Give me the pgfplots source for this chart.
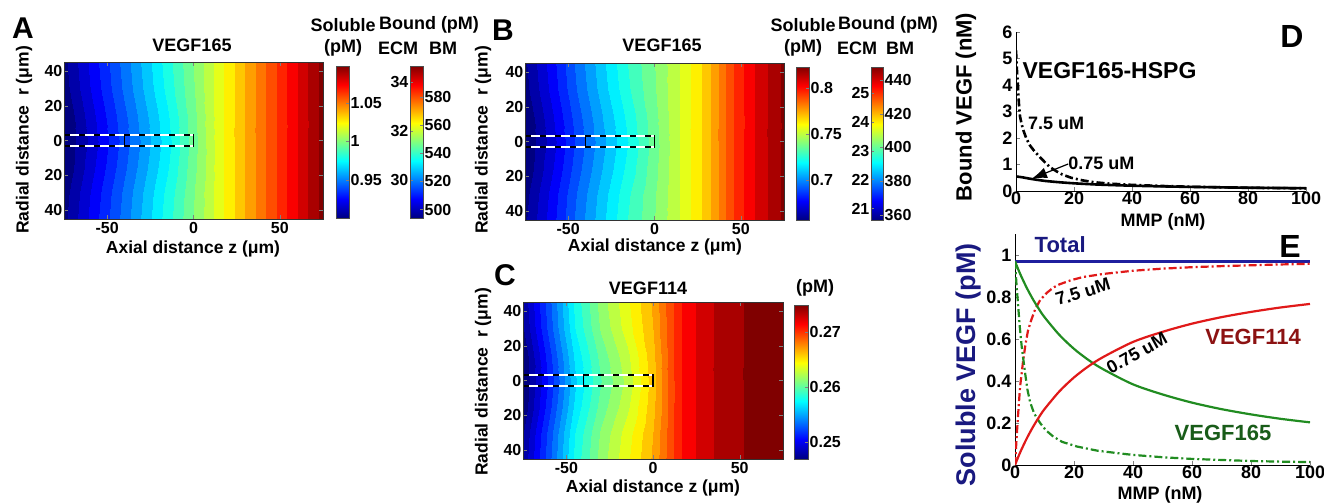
\documentclass[border=0pt]{standalone}
\usepackage{pgfplots}
\pgfplotsset{compat=1.18}
\usepackage{fontspec}
\setmainfont{Liberation Sans}
\usetikzlibrary{arrows.meta}
\definecolor{navy}{rgb}{0.1,0.1,0.5}
\definecolor{totalblue}{rgb}{0.12,0.12,0.62}
\definecolor{cgreen}{rgb}{0.13,0.55,0.13}
\definecolor{cred}{rgb}{0.88,0.1,0.1}
\definecolor{dred}{rgb}{0.55,0.07,0.07}
\definecolor{dgreen}{rgb}{0.1,0.36,0.1}
\newcommand{\fs}[1]{\fontsize{#1}{#1}\selectfont\bfseries}
\pgfplotsset{
  colormap={myjet}{rgb255(0cm)=(0,0,128); rgb255(1cm)=(0,0,255); rgb255(3cm)=(0,255,255); rgb255(5cm)=(255,255,0); rgb255(7cm)=(255,0,0); rgb255(8cm)=(128,0,0)},
  colormap={jetd}{samples of colormap=(26 of myjet)},
}
\pgfplotsset{
  every axis/.append style={font=\fs{16}, /pgf/number format/assume math mode=true},
  heat/.style={
    scale only axis, width=259pt, height=157pt,
    xmin=-75,xmax=75,ymin=-45,ymax=45,
    xtick={-50,0,50}, xticklabels={-50,0,50},
    ytick={-40,-20,0,20,40}, yticklabels={40,20,0,20,40},
    tick pos=both, tick align=inside, major tick length=4pt,
    yticklabel style={inner sep=1.5pt},
    axis on top, axis line style={line width=0.8pt, black!80},
    colormap name=jetd,
    colormap access=piecewise constant,
  },
  cbar/.style={
    scale only axis, width=13pt, height=153pt,
    xmin=0,xmax=1, xtick=\empty,
    tick align=inside, major tick length=3pt,
    yticklabel style={inner sep=1.5pt},
    axis on top, axis line style={line width=0.6pt, black!70},
    colormap name=myjet,
  },
  vessel/.style={white, line width=1.8pt},
  vesseld/.style={black, line width=1.8pt, dash pattern=on 6pt off 9pt},
  dd/.style={dash pattern=on 8pt off 3pt on 2pt off 3pt},
}
\begin{document}
\begin{tikzpicture}[x=1pt,y=1pt]
\path[use as bounding box] (0,0) rectangle (1324,503);

% ================= Panel A =================
\begin{axis}[heat, at={(64pt,284pt)}, anchor=south west, point meta min=0.9006, point meta max=1.098]
\addplot[surf, shader=interp, mesh/rows=7, mesh/cols=11, point meta=\thisrow{v}] table[x=z,y=r,row sep=\\]{
z r v\\
-75 -45 0.9060\\ -60 -45 0.9248\\ -45 -45 0.9435\\ -30 -45 0.9623\\ -15 -45 0.9810\\ 0 -45 0.9999\\ 15 -45 1.0188\\ 30 -45 1.0375\\ 45 -45 1.0563\\ 60 -45 1.0750\\ 75 -45 1.0938\\
-75 -30 0.9045\\ -60 -30 0.9233\\ -45 -30 0.9420\\ -30 -30 0.9608\\ -15 -30 0.9795\\ 0 -30 0.9991\\ 15 -30 1.0188\\ 30 -30 1.0375\\ 45 -30 1.0563\\ 60 -30 1.0750\\ 75 -30 1.0938\\
-75 -15 0.9010\\ -60 -15 0.9198\\ -45 -15 0.9385\\ -30 -15 0.9573\\ -15 -15 0.9760\\ 0 -15 0.9974\\ 15 -15 1.0188\\ 30 -15 1.0375\\ 45 -15 1.0563\\ 60 -15 1.0750\\ 75 -15 1.0938\\
-75 0 0.8988\\ -60 0 0.9175\\ -45 0 0.9363\\ -30 0 0.9550\\ -15 0 0.9738\\ 0 0 0.9963\\ 15 0 1.0188\\ 30 0 1.0375\\ 45 0 1.0563\\ 60 0 1.0750\\ 75 0 1.0938\\
-75 15 0.9010\\ -60 15 0.9198\\ -45 15 0.9385\\ -30 15 0.9573\\ -15 15 0.9760\\ 0 15 0.9974\\ 15 15 1.0188\\ 30 15 1.0375\\ 45 15 1.0563\\ 60 15 1.0750\\ 75 15 1.0938\\
-75 30 0.9045\\ -60 30 0.9233\\ -45 30 0.9420\\ -30 30 0.9608\\ -15 30 0.9795\\ 0 30 0.9991\\ 15 30 1.0188\\ 30 30 1.0375\\ 45 30 1.0563\\ 60 30 1.0750\\ 75 30 1.0938\\
-75 45 0.9060\\ -60 45 0.9248\\ -45 45 0.9435\\ -30 45 0.9623\\ -15 45 0.9810\\ 0 45 0.9999\\ 15 45 1.0188\\ 30 45 1.0375\\ 45 45 1.0563\\ 60 45 1.0750\\ 75 45 1.0938\\
};
\addplot[vessel] coordinates {(-75,3) (0,3)};
\addplot[vessel] coordinates {(-75,-3) (0,-3)};
\addplot[vesseld] coordinates {(-75,3) (0,3)};
\addplot[vesseld] coordinates {(-75,-3) (0,-3)};
\addplot[black, line width=1.5pt] coordinates {(-40,-3.5) (-40,3.5)};
\addplot[black, line width=1.5pt] coordinates {(0,-3.5) (0,3.5)};
\end{axis}

\begin{axis}[cbar, at={(336pt,285pt)}, anchor=south west, height=152pt, ymin=0.9006, ymax=1.098,
  ytick={0.95,1,1.05}, yticklabels={0.95,1,1.05}, ytick pos=right]
\addplot[surf, shader=interp, mesh/rows=2, mesh/cols=2, point meta=y] coordinates {(0,0.9006) (1,0.9006) (0,1.098) (1,1.098)};
\end{axis}
\begin{axis}[cbar, at={(410pt,285pt)}, anchor=south west, height=152pt, ymin=28.45, ymax=34.65,
  ytick={30,32,34}, yticklabels={30,32,34}, ytick pos=left]
\addplot[surf, shader=interp, mesh/rows=2, mesh/cols=2, point meta=y] coordinates {(0,28.45) (1,28.45) (0,34.65) (1,34.65)};
\end{axis}
\begin{axis}[cbar, at={(410pt,285pt)}, anchor=south west, height=152pt, ymin=494, ymax=602,
  ytick={500,520,540,560,580}, yticklabels={500,520,540,560,580}, ytick pos=right]
\end{axis}

% ================= Panel B =================
\begin{axis}[heat, at={(525pt,283pt)}, anchor=south west, point meta min=0.6565, point meta max=0.823]
\addplot[surf, shader=interp, mesh/rows=7, mesh/cols=11, point meta=\thisrow{v}] table[x=z,y=r,row sep=\\]{
z r v\\
-75 -45 0.6618\\ -60 -45 0.6788\\ -45 -45 0.6968\\ -30 -45 0.7128\\ -15 -45 0.7278\\ 0 -45 0.7399\\ 15 -45 0.753\\ 30 -45 0.768\\ 45 -45 0.790\\ 60 -45 0.806\\ 75 -45 0.818\\
-75 -30 0.6604\\ -60 -30 0.6774\\ -45 -30 0.6954\\ -30 -30 0.7114\\ -15 -30 0.7264\\ 0 -30 0.7394\\ 15 -30 0.753\\ 30 -30 0.768\\ 45 -30 0.790\\ 60 -30 0.806\\ 75 -30 0.818\\
-75 -15 0.6572\\ -60 -15 0.6742\\ -45 -15 0.6922\\ -30 -15 0.7082\\ -15 -15 0.7232\\ 0 -15 0.7381\\ 15 -15 0.753\\ 30 -15 0.768\\ 45 -15 0.790\\ 60 -15 0.806\\ 75 -15 0.818\\
-75 0 0.6551\\ -60 0 0.6721\\ -45 0 0.6901\\ -30 0 0.7061\\ -15 0 0.7211\\ 0 0 0.7373\\ 15 0 0.753\\ 30 0 0.768\\ 45 0 0.790\\ 60 0 0.806\\ 75 0 0.818\\
-75 15 0.6572\\ -60 15 0.6742\\ -45 15 0.6922\\ -30 15 0.7082\\ -15 15 0.7232\\ 0 15 0.7381\\ 15 15 0.753\\ 30 15 0.768\\ 45 15 0.790\\ 60 15 0.806\\ 75 15 0.818\\
-75 30 0.6604\\ -60 30 0.6774\\ -45 30 0.6954\\ -30 30 0.7114\\ -15 30 0.7264\\ 0 30 0.7394\\ 15 30 0.753\\ 30 30 0.768\\ 45 30 0.790\\ 60 30 0.806\\ 75 30 0.818\\
-75 45 0.6618\\ -60 45 0.6788\\ -45 45 0.6968\\ -30 45 0.7128\\ -15 45 0.7278\\ 0 45 0.7399\\ 15 45 0.753\\ 30 45 0.768\\ 45 45 0.790\\ 60 45 0.806\\ 75 45 0.818\\
};
\addplot[vessel] coordinates {(-75,3) (0,3)};
\addplot[vessel] coordinates {(-75,-3) (0,-3)};
\addplot[vesseld] coordinates {(-75,3) (0,3)};
\addplot[vesseld] coordinates {(-75,-3) (0,-3)};
\addplot[black, line width=1.5pt] coordinates {(-40,-3.5) (-40,3.5)};
\addplot[black, line width=1.5pt] coordinates {(0,-3.5) (0,3.5)};
\end{axis}

\begin{axis}[cbar, at={(796pt,283pt)}, anchor=south west, ymin=0.6565, ymax=0.823,
  ytick={0.7,0.75,0.8}, yticklabels={0.7,0.75,0.8}, ytick pos=right]
\addplot[surf, shader=interp, mesh/rows=2, mesh/cols=2, point meta=y] coordinates {(0,0.6565) (1,0.6565) (0,0.823) (1,0.823)};
\end{axis}
\begin{axis}[cbar, at={(871pt,283pt)}, anchor=south west, width=12pt, ymin=20.6, ymax=25.9,
  ytick={21,22,23,24,25}, yticklabels={21,22,23,24,25}, ytick pos=left]
\addplot[surf, shader=interp, mesh/rows=2, mesh/cols=2, point meta=y] coordinates {(0,20.6) (1,20.6) (0,25.9) (1,25.9)};
\end{axis}
\begin{axis}[cbar, at={(871pt,283pt)}, anchor=south west, width=12pt, ymin=357, ymax=447.7,
  ytick={360,380,400,420,440}, yticklabels={360,380,400,420,440}, ytick pos=right]
\end{axis}

% ================= Panel C =================
\begin{axis}[heat, at={(523pt,44pt)}, anchor=south west, width=260pt, point meta min=0.2469, point meta max=0.2749]
\addplot[surf, shader=interp, mesh/rows=7, mesh/cols=11, point meta=\thisrow{v}] table[x=z,y=r,row sep=\\]{
z r v\\
-75 -45 0.2482\\ -60 -45 0.2530\\ -45 -45 0.2580\\ -30 -45 0.2614\\ -15 -45 0.2639\\ 0 -45 0.2665\\ 15 -45 0.2704\\ 30 -45 0.2724\\ 45 -45 0.2735\\ 60 -45 0.2742\\ 75 -45 0.2745\\
-75 -30 0.2479\\ -60 -30 0.2527\\ -45 -30 0.2577\\ -30 -30 0.2611\\ -15 -30 0.2636\\ 0 -30 0.2663\\ 15 -30 0.2704\\ 30 -30 0.2724\\ 45 -30 0.2735\\ 60 -30 0.2742\\ 75 -30 0.2745\\
-75 -15 0.2471\\ -60 -15 0.2519\\ -45 -15 0.2569\\ -30 -15 0.2603\\ -15 -15 0.2628\\ 0 -15 0.2660\\ 15 -15 0.2704\\ 30 -15 0.2724\\ 45 -15 0.2735\\ 60 -15 0.2742\\ 75 -15 0.2745\\
-75 0 0.2466\\ -60 0 0.2514\\ -45 0 0.2564\\ -30 0 0.2598\\ -15 0 0.2623\\ 0 0 0.2658\\ 15 0 0.2704\\ 30 0 0.2724\\ 45 0 0.2735\\ 60 0 0.2742\\ 75 0 0.2745\\
-75 15 0.2471\\ -60 15 0.2519\\ -45 15 0.2569\\ -30 15 0.2603\\ -15 15 0.2628\\ 0 15 0.2660\\ 15 15 0.2704\\ 30 15 0.2724\\ 45 15 0.2735\\ 60 15 0.2742\\ 75 15 0.2745\\
-75 30 0.2479\\ -60 30 0.2527\\ -45 30 0.2577\\ -30 30 0.2611\\ -15 30 0.2636\\ 0 30 0.2663\\ 15 30 0.2704\\ 30 30 0.2724\\ 45 30 0.2735\\ 60 30 0.2742\\ 75 30 0.2745\\
-75 45 0.2482\\ -60 45 0.2530\\ -45 45 0.2580\\ -30 45 0.2614\\ -15 45 0.2639\\ 0 45 0.2665\\ 15 45 0.2704\\ 30 45 0.2724\\ 45 45 0.2735\\ 60 45 0.2742\\ 75 45 0.2745\\
};
\addplot[vessel] coordinates {(-75,3) (0,3)};
\addplot[vessel] coordinates {(-75,-3) (0,-3)};
\addplot[vesseld] coordinates {(-75,3) (0,3)};
\addplot[vesseld] coordinates {(-75,-3) (0,-3)};
\addplot[black, line width=1.5pt] coordinates {(-40,-3.5) (-40,3.5)};
\addplot[black, line width=1.5pt] coordinates {(0,-3.5) (0,3.5)};
\end{axis}

\begin{axis}[cbar, at={(794pt,44pt)}, anchor=south west, width=14pt, height=154pt, ymin=0.2469, ymax=0.2749,
  ytick={0.25,0.26,0.27}, yticklabels={0.25,0.26,0.27}, ytick pos=right]
\addplot[surf, shader=interp, mesh/rows=2, mesh/cols=2, point meta=y] coordinates {(0,0.2469) (1,0.2469) (0,0.2749) (1,0.2749)};
\end{axis}

% ================= Panel D =================
\begin{axis}[scale only axis, at={(1016pt,312pt)}, anchor=south west, width=290pt, height=159pt,
  xmin=0, xmax=100, ymin=0, ymax=6, xtick={0,20,...,100}, ytick={0,1,...,6},
  axis x line*=bottom, axis y line*=left, axis line style={-, line width=0.8pt},
  tick align=inside, major tick length=4pt, font=\fs{18},
  xticklabel style={inner sep=1pt}]
\addplot[black, line width=2.6pt, dd] coordinates {(0,5.3) (0.3,4.6) (0.7,3.9) (1.0,3.3) (1.4,2.8) (2.0,2.5) (2.5,2.3) (3.5,2.0) (4.8,1.72) (6.5,1.48) (8.3,1.27) (10,1.08) (11.7,0.9) (14,0.74) (16,0.62) (19,0.5) (23,0.4) (27,0.33) (32,0.28) (40,0.23) (50,0.19) (60,0.16) (70,0.14) (80,0.12) (90,0.11) (100,0.1)};
\addplot[black, line width=2.6pt, smooth] coordinates {(0,0.55) (2,0.52) (5,0.46) (8,0.41) (10,0.38) (15,0.33) (20,0.29) (25,0.26) (30,0.235) (40,0.2) (50,0.175) (60,0.155) (70,0.14) (80,0.125) (90,0.115) (100,0.105)};
\draw[-{Latex[length=15pt,width=11pt]}, line width=1.2pt] (axis cs:18,1.02) -- (axis cs:5.5,0.47);
\node[anchor=west, font=\fs{23}, inner sep=0pt] at (axis cs:2.2,4.56) {VEGF165-HSPG};
\node[anchor=west, font=\fs{18}, inner sep=0pt] at (axis cs:4.1,2.55) {7.5 uM};
\node[anchor=west, font=\fs{18}, inner sep=0pt] at (axis cs:18,1.04) {0.75 uM};
\end{axis}

% ================= Panel E =================
\begin{axis}[scale only axis, at={(1015pt,38pt)}, anchor=south west, width=295pt, height=231pt,
  xmin=0, xmax=100, ymin=0, ymax=1.1, xtick={0,20,...,100}, ytick={0,0.2,0.4,0.6,0.8,1},
  yticklabels={0,0.2,0.4,0.6,0.8,1},
  axis x line*=bottom, axis y line*=left, axis line style={-, line width=0.8pt},
  tick align=inside, major tick length=4pt, font=\fs{18},
  xticklabel style={inner sep=1pt}]
\addplot[totalblue, line width=2.6pt] coordinates {(0,0.97) (100,0.97)};
\addplot[cred, line width=2.2pt, dd] coordinates {(0,0) (0.25,0.06) (0.5,0.12) (1,0.23) (1.7,0.37) (2.7,0.49) (3.5,0.57) (4.4,0.64) (5.5,0.69) (6.8,0.74) (8.5,0.785) (10.8,0.82) (13,0.845) (15,0.86) (19,0.88) (23,0.895) (30,0.91) (40,0.925) (50,0.935) (60,0.942) (70,0.947) (80,0.951) (90,0.955) (100,0.958)};
\addplot[cgreen, line width=2.2pt, dd] coordinates {(0,0.97) (0.5,0.86) (1,0.77) (1.6,0.66) (2.3,0.56) (3.4,0.44) (4.2,0.36) (5.1,0.30) (6.5,0.245) (8.5,0.20) (10.5,0.165) (13,0.135) (16,0.11) (21,0.088) (28,0.068) (35,0.056) (40,0.048) (50,0.037) (60,0.029) (70,0.024) (80,0.019) (90,0.016) (100,0.014)};
\addplot[cgreen, line width=2.2pt, smooth] coordinates {(0,0.970) (1,0.935) (2,0.902) (4,0.843) (6,0.791) (8,0.745) (10,0.704) (15,0.620) (20,0.553) (25,0.499) (30,0.455) (40,0.384) (50,0.336) (60,0.297) (70,0.266) (80,0.241) (90,0.220) (100,0.203)};
\addplot[cred, line width=2.2pt, smooth] coordinates {(0,0) (1,0.035) (2,0.068) (4,0.127) (6,0.179) (8,0.225) (10,0.266) (15,0.350) (20,0.417) (25,0.471) (30,0.515) (40,0.586) (50,0.634) (60,0.673) (70,0.704) (80,0.729) (90,0.750) (100,0.767)};
\node[font=\fs{22}, text=navy] at (axis cs:15.3,1.048) {Total};
\node[font=\fs{18}, rotate=17, inner sep=0pt] at (axis cs:23,0.824) {7.5 uM};
\node[font=\fs{22}, text=dred, inner sep=0pt] at (axis cs:80.7,0.61) {VEGF114};
\node[font=\fs{18}, rotate=29, inner sep=0pt] at (axis cs:41.3,0.533) {0.75 uM};
\node[font=\fs{22}, text=dgreen] at (axis cs:70.5,0.152) {VEGF165};
\end{axis}

% ================= Texts =================
\node[font=\fs{30}] at (23,475) {A};
\node[font=\fs{30}] at (503,473) {B};
\node[font=\fs{30}] at (505,228) {C};
\node[font=\fs{32}] at (1292,467) {D};
\node[font=\fs{32}] at (1290,257) {E};

\node[font=\fs{18}] at (192,458) {VEGF165};
\node[font=\fs{18}] at (662,458) {VEGF165};
\node[font=\fs{18}] at (648,215) {VEGF114};

\node[font=\fs{18}] at (343,478) {Soluble};
\node[font=\fs{18}] at (343,455) {(pM)};
\node[font=\fs{18}] at (429,478) {Bound (pM)};
\node[font=\fs{18}] at (398,455) {ECM};
\node[font=\fs{18}] at (443,455) {BM};

\node[font=\fs{18}] at (803,478) {Soluble};
\node[font=\fs{18}] at (803,455) {(pM)};
\node[font=\fs{18}] at (888,478) {Bound (pM)};
\node[font=\fs{18}] at (857,455) {ECM};
\node[font=\fs{18}] at (900,455) {BM};

\node[font=\fs{18}] at (815,215) {(pM)};

\node[font=\fs{17.5}] at (193,254) {Axial distance z (μm)};
\node[font=\fs{17.5}] at (655,256) {Axial distance z (μm)};
\node[font=\fs{17.5}] at (653,15) {Axial distance z (μm)};
\node[font=\fs{17.5}, rotate=90] at (24,363) {Radial distance\ \ r\ (μm)};
\node[font=\fs{17.5}, rotate=90] at (483,363) {Radial distance\ \ r\ (μm)};
\node[font=\fs{17.5}, rotate=90] at (483,121) {Radial distance\ \ r\ (μm)};

\node[font=\fs{22}, rotate=90] at (966,396) {Bound VEGF (nM)};
\node[font=\fs{18}] at (1163,281) {MMP (nM)};
\node[font=\fs{27}, rotate=90, text=navy] at (969,138) {Soluble VEGF (pM)};
\node[font=\fs{18}] at (1160,8) {MMP (nM)};
\end{tikzpicture}
\end{document}
